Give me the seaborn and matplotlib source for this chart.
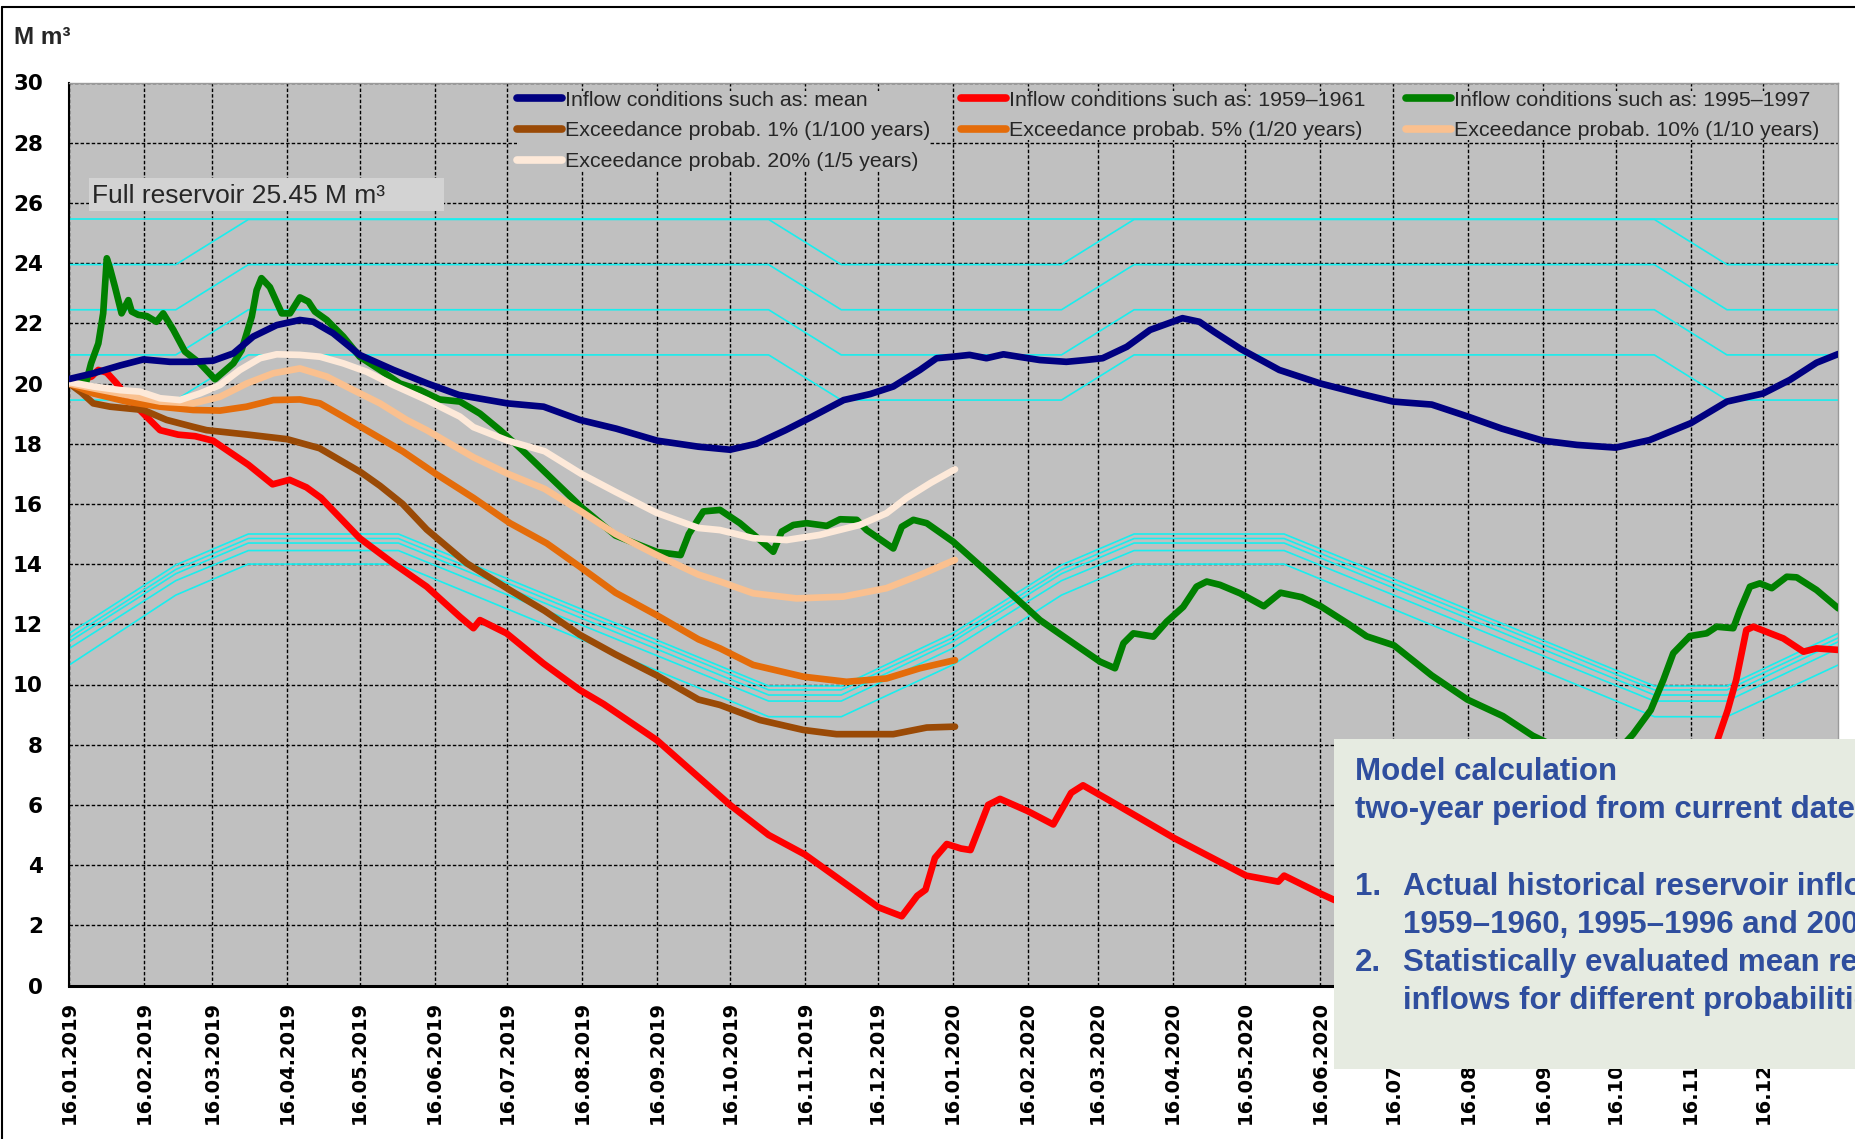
import pandas as pd
import matplotlib
matplotlib.use("Agg")
import matplotlib.pyplot as plt
from matplotlib.patches import Rectangle
from matplotlib.lines import Line2D
import seaborn as sns

START = pd.Timestamp("2019-01-16")
END = pd.Timestamp("2021-01-16")

# ---------------- reservoir volume scenarios (day offset from START, M m3) ----------------
mean_day = [0, 10, 21, 30.6, 41.6, 51, 59.5, 67.8, 76, 85.7, 95.3, 100.8, 109, 120, 134, 148,
            161, 181, 196, 211, 226, 243, 260, 273, 284, 296, 307, 320, 331, 340.5, 351.5,
            358.4, 365, 372, 379, 386, 393, 401, 412, 420, 427, 437, 446.6, 460, 467, 473,
            484, 500, 517, 534, 547, 563, 578, 592, 609, 623, 639, 653, 670, 685, 700, 711,
            722, 731]
mean_val = [20.15, 20.34, 20.6, 20.8, 20.72, 20.72, 20.76, 21.0, 21.56, 21.94, 22.11, 22.05,
            21.67, 20.95, 20.45, 20.0, 19.62, 19.34, 19.23, 18.79, 18.5, 18.1, 17.9, 17.8,
            18.0, 18.45, 18.9, 19.45, 19.65, 19.9, 20.45, 20.84, 20.89, 20.95, 20.84, 20.97,
            20.88, 20.78, 20.72, 20.78, 20.84, 21.22, 21.78, 22.17, 22.05, 21.72, 21.15,
            20.45, 20.0, 19.65, 19.4, 19.3, 18.9, 18.5, 18.1, 17.96, 17.87, 18.12, 18.68,
            19.4, 19.67, 20.12, 20.69, 20.98]

dry_day = [0, 9.2, 12, 15.5, 19.6, 23.7, 30.6, 37.5, 45, 52, 59.4, 74, 84, 91, 98, 104, 120,
           133.8, 147.7, 161.4, 167, 169.7, 180.7, 195.9, 210.9, 220.8, 242.8, 273, 289, 304,
           334.3, 344, 350.4, 353.8, 357.7, 362.6, 368.5, 372.4, 379.7, 384.6, 395.9, 406.6,
           414, 418.9, 428.7, 456.5, 486.3, 499.6, 502, 517.1, 522.5, 545, 580, 620, 660, 672,
           680.4, 685.3, 688.8, 693, 695.9, 708.3, 716.6, 722, 731]
dry_val = [20.0, 20.23, 20.45, 20.36, 20.0, 19.56, 19.0, 18.45, 18.3, 18.25, 18.1, 17.3, 16.65,
           16.8, 16.55, 16.2, 14.86, 14.03, 13.25, 12.25, 11.87, 12.14, 11.7, 10.7, 9.82, 9.35,
           8.15, 6.0, 5.0, 4.35, 2.6, 2.3, 2.98, 3.18, 4.24, 4.7, 4.55, 4.5, 6.0, 6.2, 5.8,
           5.35, 6.4, 6.65, 6.2, 4.9, 3.65, 3.45, 3.65, 3.05, 2.85, 2.2, 1.5, 1.0, 1.5, 4.5,
           8.0, 9.15, 10.15, 11.81, 11.92, 11.53, 11.09, 11.2, 11.15]

wet_day = [0, 7, 9, 12, 14, 15.5, 16.8, 18.9, 21.6, 24.4, 25.8, 28.5, 32, 36, 38.8, 43, 47.8,
           54, 60.2, 67.8, 71.2, 75.4, 77.4, 79.4, 82.9, 87.8, 91.2, 95.3, 98.8, 101.5, 106.4,
           113.2, 120, 128.4, 136.6, 145, 153, 161.4, 169.7, 178, 187, 196, 211.5, 225.7, 243,
           252.6, 256, 262, 268.9, 277.1, 285.4, 290.9, 294.4, 299.2, 304.7, 313, 318.5, 325.4,
           329.5, 340.5, 344, 348.8, 354.3, 365.3, 379.1, 392.8, 401.1, 414.9, 425.9, 432.1,
           435.6, 439.7, 448, 453.5, 460.3, 465.8, 470, 475.5, 483.8, 493.6, 500.5, 509.3,
           517.1, 528.8, 536.1, 547.4, 563, 577.7, 592.4, 604.7, 615, 628, 640, 646.2, 653.5,
           658.7, 662.8, 669.7, 676.6, 680.7, 687.6, 690.4, 694.5, 698.6, 703.5, 709.7, 713.8,
           722, 731]
wet_val = [20.1, 20.05, 20.67, 21.33, 22.33, 24.16, 23.83, 23.2, 22.33, 22.77, 22.39, 22.28,
           22.24, 22.05, 22.33, 21.78, 21.06, 20.67, 20.14, 20.67, 21.11, 22.22, 23.1, 23.5,
           23.2, 22.33, 22.33, 22.86, 22.72, 22.39, 22.11, 21.56, 20.89, 20.45, 20.0, 19.78,
           19.47, 19.4, 19.0, 18.45, 17.8, 17.1, 15.9, 14.95, 14.4, 14.3, 15.0, 15.75, 15.8,
           15.36, 14.8, 14.41, 15.08, 15.3, 15.36, 15.27, 15.49, 15.47, 15.13, 14.52, 15.24,
           15.47, 15.36, 14.74, 13.75, 12.75, 12.14, 11.37, 10.76, 10.54, 11.37, 11.7, 11.59,
           12.09, 12.58, 13.25, 13.42, 13.31, 13.03, 12.6, 13.05, 12.9, 12.6, 12.0, 11.6, 11.3,
           10.3, 9.5, 8.95, 8.3, 7.9, 7.6, 7.8, 8.35, 9.15, 10.15, 11.04, 11.61, 11.7, 11.92,
           11.87, 12.48, 13.25, 13.36, 13.2, 13.58, 13.56, 13.14, 12.53]

p1_day = [0, 5, 9.9, 16.8, 30.6, 40.2, 51.2, 56.7, 74, 90, 103.4, 120.5, 128.4, 137.7, 147.7,
          164.2, 182, 196.4, 211, 225.7, 242.8, 260, 268.9, 285.4, 303.3, 317, 340.5, 354.3, 366]
p1_val = [20.0, 19.7, 19.34, 19.23, 19.12, 18.79, 18.56, 18.45, 18.3, 18.15, 17.85, 17.05, 16.6,
          16.0, 15.15, 14.03, 13.14, 12.45, 11.65, 11.0, 10.3, 9.5, 9.32, 8.82, 8.49, 8.35,
          8.35, 8.57, 8.6]

p5_day = [0, 9.9, 23.7, 37.5, 51.2, 62.3, 73.3, 84.3, 95.3, 103.6, 113.2, 121.5, 137.7, 151.4,
          167, 182.1, 197.3, 211, 225.7, 242.8, 260, 268.9, 282.6, 303.3, 321.2, 337.7, 351.5, 366]
p5_val = [20.0, 19.67, 19.4, 19.23, 19.12, 19.1, 19.23, 19.45, 19.47, 19.34, 18.9, 18.51, 17.75,
          17.0, 16.2, 15.36, 14.69, 13.91, 13.05, 12.3, 11.5, 11.2, 10.65, 10.26, 10.09, 10.2,
          10.54, 10.81]

p10_day = [0, 9.9, 23.7, 37.5, 51.2, 62.3, 73.3, 84.3, 95.3, 106.4, 117.4, 128.4, 139.4, 147.7,
           167, 181.2, 196.4, 211.5, 225.7, 242.8, 260, 268.9, 282.6, 300.5, 319.8, 337.7, 351.5, 366]
p10_val = [20.0, 19.84, 19.62, 19.4, 19.34, 19.56, 20.0, 20.34, 20.5, 20.23, 19.78, 19.34, 18.79,
           18.45, 17.55, 17.0, 16.5, 15.75, 15.0, 14.3, 13.65, 13.42, 13.03, 12.86, 12.92, 13.2,
           13.64, 14.14]

p20_day = [0, 9.9, 21, 29.2, 37.5, 45.7, 54, 62.3, 70.5, 78.8, 85.7, 95.3, 103.6, 113.2, 122.9,
           133.9, 147.7, 161.4, 167, 181.2, 196.4, 211.5, 225.7, 242.8, 260, 268.9, 282.6, 296.4,
           310.1, 326.6, 337.7, 346, 356, 366]
p20_val = [20.05, 19.9, 19.78, 19.73, 19.51, 19.45, 19.67, 19.95, 20.45, 20.84, 20.97, 20.95,
           20.89, 20.67, 20.39, 19.95, 19.45, 18.9, 18.55, 18.1, 17.75, 17.0, 16.4, 15.7, 15.2,
           15.13, 14.86, 14.8, 14.97, 15.3, 15.69, 16.2, 16.7, 17.15]

# ---------------- operating rule curves ----------------
upper_dates = ["2019-01-16", "2019-03-01", "2019-03-31", "2019-11-01", "2019-12-01",
               "2020-03-01", "2020-03-31", "2020-11-01", "2020-12-01", "2021-01-16"]
upper_winter = [19.45, 20.95, 22.45, 23.95]
upper_summer = [20.95, 22.45, 23.95, 25.45]
full_reservoir = 25.45

lower_dates = ["2019-01-16", "2019-03-01", "2019-03-31", "2019-06-01", "2019-11-01",
               "2019-12-01", "2020-01-16", "2020-03-01", "2020-03-31", "2020-06-01",
               "2020-11-01", "2020-12-01", "2021-01-16"]
band_jan = [11.70, 11.55, 11.42, 11.20, 10.65]
band_mar = [13.97, 13.82, 13.68, 13.45, 12.97]
band_high = [15.00, 14.85, 14.70, 14.45, 14.00]
band_low = [9.95, 9.82, 9.65, 9.45, 8.93]

labels = {
    "mean": "Inflow conditions such as: mean",
    "dry": "Inflow conditions such as: 1959\u20131961",
    "wet": "Inflow conditions such as: 1995\u20131997",
    "p1": "Exceedance probab. 1% (1/100 years)",
    "p5": "Exceedance probab. 5% (1/20 years)",
    "p10": "Exceedance probab. 10% (1/10 years)",
    "p20": "Exceedance probab. 20% (1/5 years)",
}
colors = {
    "mean": "#000080", "dry": "#ff0000", "wet": "#008000", "p1": "#9a4a06",
    "p5": "#e46c0a", "p10": "#fac08f", "p20": "#fde9d9",
}
CYAN = "#19eeee"

# ---------------- figure layout (pixel helpers) ----------------
W, H = 1856, 1139
def fx(px):
    return px / W
def fy(py):
    return 1 - py / H

sns.set_style("white")
plt.rcParams["font.family"] = ["Liberation Sans", "DejaVu Sans"]

fig = plt.figure(figsize=(W / 100, H / 100), dpi=100)
ax = fig.add_axes([fx(69.3), fy(985.5), (1838.3 - 69.3) / W, (985.5 - 82.5) / H])
ax.set_facecolor("#c0c0c0")


def to_dates(days):
    return START + pd.to_timedelta(days, unit="D")


# rule curves (thin cyan)
ud = pd.to_datetime(upper_dates)
for w, s in zip(upper_winter, upper_summer):
    vals = [w, w, s, s, w, w, s, s, w, w]
    sns.lineplot(x=ud, y=vals, ax=ax, color=CYAN, linewidth=1.2, estimator=None,
                 sort=False, legend=False, zorder=2)
sns.lineplot(x=pd.to_datetime([START, END]), y=[full_reservoir, full_reservoir], ax=ax,
             color=CYAN, linewidth=1.2, estimator=None, sort=False, legend=False, zorder=2)

ld = pd.to_datetime(lower_dates)
for a, b, c, d in zip(band_jan, band_mar, band_high, band_low):
    vals = [a, b, c, c, d, d, a, b, c, c, d, d, a]
    sns.lineplot(x=ld, y=vals, ax=ax, color=CYAN, linewidth=1.2, estimator=None,
                 sort=False, legend=False, zorder=2)

# scenario curves
series = [
    ("dry", dry_day, dry_val),
    ("wet", wet_day, wet_val),
    ("p1", p1_day, p1_val),
    ("p5", p5_day, p5_val),
    ("p10", p10_day, p10_val),
    ("p20", p20_day, p20_val),
    ("mean", mean_day, mean_val),
]
for i, (key, d, v) in enumerate(series):
    sns.lineplot(x=to_dates(d), y=v, ax=ax, color=colors[key], linewidth=4.8,
                 estimator=None, sort=False, legend=False, zorder=3 + i,
                 solid_capstyle="round", solid_joinstyle="round")

# axes
ax.set_xlim(START, END)
ax.set_ylim(0, 30)
ticks = [START + pd.DateOffset(months=i) for i in range(24)]
ax.set_xticks(ticks)
ax.set_xticklabels([t.strftime("%d.%m.%Y") for t in ticks], rotation=90,
                   fontfamily="DejaVu Sans", fontweight="bold", fontsize=14)
ax.set_yticks(range(0, 31, 2))
ax.set_yticklabels([str(v) for v in range(0, 31, 2)], fontfamily="DejaVu Sans",
                   fontweight="bold", fontsize=15.5)
ax.tick_params(axis="x", length=5, width=1, pad=6, direction="out", colors="black")
ax.tick_params(axis="y", length=8, width=1, pad=11, direction="out", colors="black")
ax.set_xlabel("")
ax.set_ylabel("")
ax.grid(True, color="black", linestyle=(0, (2.5, 1.5)), linewidth=1.0)
ax.set_axisbelow(True)
for side in ("left", "bottom"):
    ax.spines[side].set_color("black")
ax.spines["left"].set_linewidth(1.5)
ax.spines["bottom"].set_linewidth(2.2)
for side in ("top", "right"):
    ax.spines[side].set_color("#9a9a9a")
    ax.spines[side].set_linewidth(1.0)

# legend in three columns
def handle(key):
    return Line2D([], [], color=colors[key], linewidth=5.5, solid_capstyle="round")

legend_cols = [(517, ["mean", "p1", "p20"]), (961, ["dry", "p5"]), (1406, ["wet", "p10"])]
legends = []
for x0, keys in legend_cols:
    leg = ax.legend([handle(k) for k in keys], [labels[k] for k in keys],
                    loc="upper left", bbox_to_anchor=(fx(x0), fy(90.5)),
                    bbox_transform=fig.transFigure, frameon=True, facecolor="#c0c0c0",
                    edgecolor="none", framealpha=1, fancybox=False, borderpad=0.0,
                    borderaxespad=0, handlelength=2.1, handletextpad=0.15,
                    labelspacing=0.55, prop={"family": "Liberation Sans", "size": 15.4})
    leg.set_zorder(20)
    legends.append(leg)
for leg in legends[:-1]:
    ax.add_artist(leg)

# unit label
fig.text(fx(14), fy(44), "M m\u00b3", fontsize=17.5, fontweight="bold", va="baseline",
         family="Liberation Sans")

# full reservoir label
fig.add_artist(Rectangle((fx(89), fy(211)), (444 - 89) / W, (211 - 177.5) / H,
                         transform=fig.transFigure, facecolor="#d3d3d3", edgecolor="none",
                         zorder=5))
fig.text(fx(92), fy(203), "Full reservoir 25.45 M m\u00b3", fontsize=19, va="baseline",
         family="Liberation Sans", zorder=6)

# description panel
fig.add_artist(Rectangle((fx(1334), fy(1069)), (W - 1334) / W + 0.01, (1069 - 739) / H,
                         transform=fig.transFigure, facecolor="#e6ebe1", edgecolor="none",
                         zorder=10))
TXT = "#2f4e9e"
note_kw = dict(fontsize=22.5, fontweight="bold", color=TXT, va="baseline",
               family="Liberation Sans", zorder=11)
fig.text(fx(1355), fy(780), "Model calculation", **note_kw)
fig.text(fx(1355), fy(818), "two-year period from current date", **note_kw)
fig.text(fx(1355), fy(895), "1.", **note_kw)
fig.text(fx(1403), fy(895), "Actual historical reservoir inflows", **note_kw)
fig.text(fx(1403), fy(933), "1959\u20131960, 1995\u20131996 and 2003\u20132004", **note_kw)
fig.text(fx(1355), fy(971), "2.", **note_kw)
fig.text(fx(1403), fy(971), "Statistically evaluated mean reservoir", **note_kw)
fig.text(fx(1403), fy(1009), "inflows for different probabilities", **note_kw)

# outer frame (top and left edges)
fig.add_artist(Line2D([fx(2), fx(2)], [0, fy(7)], transform=fig.transFigure,
                      color="black", linewidth=1.5, zorder=12))
fig.add_artist(Line2D([fx(2), 1], [fy(7), fy(7)], transform=fig.transFigure,
                      color="black", linewidth=1.5, zorder=12))

fig.savefig("out.png", dpi=100, facecolor="white")
